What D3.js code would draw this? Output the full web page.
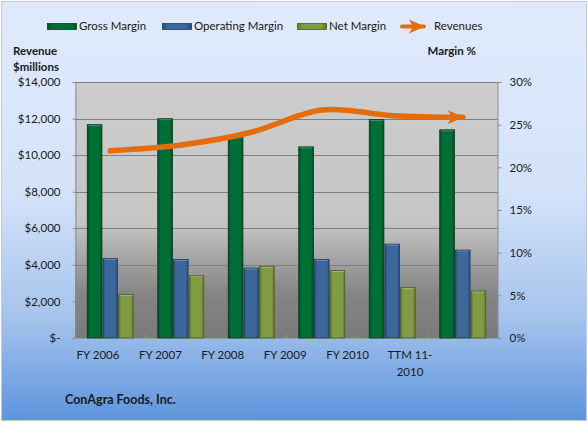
<!DOCTYPE html>
<html>
<head>
<meta charset="utf-8">
<script src="https://cdn.jsdelivr.net/npm/d3@7"></script>
<style>
  body { margin: 0; background: #fff; }
  svg text { font-family: Lato, "Liberation Sans", sans-serif; fill: #1a1a1a; }
</style>
</head>
<body>
<div id="chart"></div>
<script>
// data
var categories = ["FY 2006", "FY 2007", "FY 2008", "FY 2009", "FY 2010", "TTM 11-2010"];
var categoryLabels = [["FY 2006"], ["FY 2007"], ["FY 2008"], ["FY 2009"], ["FY 2010"], ["TTM 11-", "2010"]];
var seriesNames = ["Gross Margin", "Operating Margin", "Net Margin"];
var grossMargin = [25.0, 25.7, 23.6, 22.4, 25.6, 24.4];
var operatingMargin = [9.3, 9.2, 8.2, 9.2, 11.0, 10.3];
var netMargin = [5.1, 7.3, 8.4, 7.9, 5.9, 5.5];
var revenues = [10240, 10550, 11250, 12470, 12160, 12070];
var leftTicks = [0, 2000, 4000, 6000, 8000, 10000, 12000, 14000];
var rightTicks = [0, 5, 10, 15, 20, 25, 30];

var W = 588, H = 423;
var plot = {left: 75, right: 498, top: 82, bottom: 338};

var svg = d3.select("#chart").append("svg")
    .attr("width", W)
    .attr("height", H);

var defs = svg.append("defs");

function vGradient(id, stops) {
    var g = defs.append("linearGradient").attr("id", id)
        .attr("x1", 0).attr("y1", 0).attr("x2", 0).attr("y2", 1);
    stops.forEach(function(s) {
        g.append("stop").attr("offset", s[0]).attr("stop-color", s[1]);
    });
}
function hGradient(id, edge, mid) {
    var g = defs.append("linearGradient").attr("id", id)
        .attr("x1", 0).attr("y1", 0).attr("x2", 1).attr("y2", 0);
    [[0, edge], [0.18, mid], [0.82, mid], [1, edge]].forEach(function(s) {
        g.append("stop").attr("offset", s[0]).attr("stop-color", s[1]);
    });
}

vGradient("bgGrad", [[0, "#e0eafc"], [0.45, "#d4e3fa"], [0.75, "#a6c4ed"], [1, "#5d94dd"]]);
vGradient("plotGrad", [[0, "#cdcdcd"], [0.55, "#c5c5c5"], [0.82, "#868686"], [1, "#7a7a7a"]]);

var barColors = {
    "Gross Margin": {mid: "#006f35", edge: "#004a24", stroke: "#003d1d"},
    "Operating Margin": {mid: "#3c679b", edge: "#294a73", stroke: "#213d60"},
    "Net Margin": {mid: "#809c43", edge: "#5d7330", stroke: "#4d5f27"}
};
seriesNames.forEach(function(s, i) {
    hGradient("bar" + i, barColors[s].edge, barColors[s].mid);
});

// background
svg.append("rect")
    .attr("x", 1.5).attr("y", 1.5)
    .attr("width", W - 3).attr("height", H - 4)
    .attr("fill", "url(#bgGrad)")
    .attr("stroke", "#c3cbd6");

// scales
var x = d3.scaleBand()
    .domain(categories)
    .range([plot.left, plot.right])
    .paddingInner(0.333)
    .paddingOuter(0.1667);

var xs = d3.scaleBand()
    .domain(seriesNames)
    .range([0, x.bandwidth()]);

var yLeft = d3.scaleLinear().domain([0, 14000]).range([plot.bottom, plot.top]);
var yRight = d3.scaleLinear().domain([0, 30]).range([plot.bottom, plot.top]);

// category labels sit off-centre in the original, so they get their own scale
var xLabel = d3.scalePoint().domain(categories).range([98, 410]);

// plot area
svg.append("rect")
    .attr("x", plot.left).attr("y", plot.top)
    .attr("width", plot.right - plot.left)
    .attr("height", plot.bottom - plot.top)
    .attr("fill", "url(#plotGrad)");

// gridlines
svg.append("g")
    .selectAll("line")
    .data(leftTicks.slice(1))
    .join("line")
    .attr("x1", plot.left).attr("x2", plot.right)
    .attr("y1", d => Math.round(yLeft(d)) + 0.5)
    .attr("y2", d => Math.round(yLeft(d)) + 0.5)
    .attr("stroke", "#7f7f7f")
    .attr("stroke-width", 1);

// left axis
var leftAxis = svg.append("g")
    .attr("transform", "translate(" + (plot.left + 0.5) + ",0)")
    .call(d3.axisLeft(yLeft)
        .tickValues(leftTicks)
        .tickSize(3)
        .tickPadding(12)
        .tickFormat(d => d === 0 ? "$-" : "$" + d3.format(",")(d)));
leftAxis.select(".domain").attr("stroke", "#8c8c8c");
leftAxis.selectAll(".tick line").attr("stroke", "#8c8c8c");
leftAxis.selectAll(".tick text")
    .style("font-size", "11.5px")
    .attr("fill", "#1a1a1a");

// right axis
var rightAxis = svg.append("g")
    .attr("transform", "translate(" + (plot.right - 0.5) + ",0)")
    .call(d3.axisRight(yRight)
        .tickValues(rightTicks)
        .tickSize(4)
        .tickPadding(8)
        .tickFormat(d => d + "%"));
rightAxis.select(".domain").attr("stroke", "#8c8c8c");
rightAxis.selectAll(".tick line").attr("stroke", "#8c8c8c");
rightAxis.selectAll(".tick text")
    .style("font-size", "11.5px")
    .attr("fill", "#1a1a1a");

// bottom edge
svg.append("line")
    .attr("x1", plot.left).attr("x2", plot.right)
    .attr("y1", plot.bottom + 0.5).attr("y2", plot.bottom + 0.5)
    .attr("stroke", "#9a9a9a");

// category ticks
svg.append("g")
    .selectAll("line")
    .data(categories.slice(1))
    .join("line")
    .attr("x1", d => x(d) - x.step() * x.paddingInner() / 2)
    .attr("x2", d => x(d) - x.step() * x.paddingInner() / 2)
    .attr("y1", plot.bottom - 4).attr("y2", plot.bottom)
    .attr("stroke", "#8f8f8f");

// bars
var seriesValues = [grossMargin, operatingMargin, netMargin];
var barData = [];
categories.forEach(function(c, i) {
    seriesNames.forEach(function(s, j) {
        barData.push({cat: c, series: s, idx: j, value: seriesValues[j][i]});
    });
});

svg.append("g")
    .selectAll("rect")
    .data(barData)
    .join("rect")
    .attr("x", d => x(d.cat) + xs(d.series) + 0.5)
    .attr("y", d => yRight(d.value))
    .attr("width", xs.bandwidth() - 1)
    .attr("height", d => plot.bottom - yRight(d.value))
    .attr("fill", d => "url(#bar" + d.idx + ")")
    .attr("stroke", d => barColors[d.series].stroke)
    .attr("stroke-width", 0.8);

// bar top highlight
svg.append("g")
    .selectAll("line")
    .data(barData)
    .join("line")
    .attr("x1", d => x(d.cat) + xs(d.series) + 1.5)
    .attr("x2", d => x(d.cat) + xs(d.series) + xs.bandwidth() - 1.5)
    .attr("y1", d => yRight(d.value) + 1)
    .attr("y2", d => yRight(d.value) + 1)
    .attr("stroke", "#ffffff")
    .attr("stroke-opacity", 0.25);

// revenue line with arrow
defs.append("marker")
    .attr("id", "arrow")
    .attr("markerUnits", "userSpaceOnUse")
    .attr("viewBox", "0 0 16 16")
    .attr("refX", 15).attr("refY", 8)
    .attr("markerWidth", 16).attr("markerHeight", 16)
    .attr("orient", "auto")
    .append("path")
    .attr("d", "M0,1 L16,8 L0,15 L4,8 Z")
    .attr("fill", "#e46c0a");

var line = d3.line()
    .x((d, i) => x(categories[i]) + x.bandwidth() / 2)
    .y(d => yLeft(d))
    .curve(d3.curveCardinal.tension(0));

svg.append("path")
    .datum(revenues)
    .attr("d", line)
    .attr("fill", "none")
    .attr("stroke", "#e46c0a")
    .attr("stroke-width", 5.5)
    .attr("stroke-linecap", "round")
    .attr("marker-end", "url(#arrow)");

// category labels
var xl = svg.append("g")
    .selectAll("text")
    .data(categories)
    .join("text")
    .attr("x", d => xLabel(d))
    .attr("y", 359)
    .attr("text-anchor", "middle")
    .style("font-size", "11.5px");
xl.selectAll("tspan")
    .data((d, i) => categoryLabels[i])
    .join("tspan")
    .attr("x", function() { return d3.select(this.parentNode).attr("x"); })
    .attr("dy", (d, i) => i === 0 ? 0 : 17)
    .text(d => d);

// axis titles
svg.append("text").attr("x", 13).attr("y", 55)
    .style("font-size", "11.5px").style("font-weight", "bold").text("Revenue");
svg.append("text").attr("x", 13).attr("y", 71)
    .style("font-size", "11.5px").style("font-weight", "bold").text("$millions");
svg.append("text").attr("x", 476).attr("y", 55).attr("text-anchor", "end")
    .style("font-size", "11.5px").style("font-weight", "bold").text("Margin %");

// company name
svg.append("text").attr("x", 65).attr("y", 404)
    .style("font-size", "12.5px").style("font-weight", "bold").text("ConAgra Foods, Inc.");

// legend
var legendX = [47, 162, 297];
var legend = svg.append("g");
seriesNames.forEach(function(s, i) {
    legend.append("rect")
        .attr("x", legendX[i] + 0.5).attr("y", 23.5)
        .attr("width", 29).attr("height", 6)
        .attr("fill", "url(#bar" + i + ")")
        .attr("stroke", barColors[s].stroke)
        .attr("stroke-width", 0.8);
    legend.append("text")
        .attr("x", legendX[i] + 32).attr("y", 30)
        .style("font-size", "11.5px")
        .text(s);
});
legend.append("line")
    .attr("x1", 402).attr("x2", 424)
    .attr("y1", 26.5).attr("y2", 26.5)
    .attr("stroke", "#e46c0a")
    .attr("stroke-width", 4)
    .attr("stroke-linecap", "round")
    .attr("marker-end", "url(#arrow)");
legend.append("text")
    .attr("x", 434).attr("y", 30)
    .style("font-size", "11.5px")
    .text("Revenues");
</script>
</body>
</html>
